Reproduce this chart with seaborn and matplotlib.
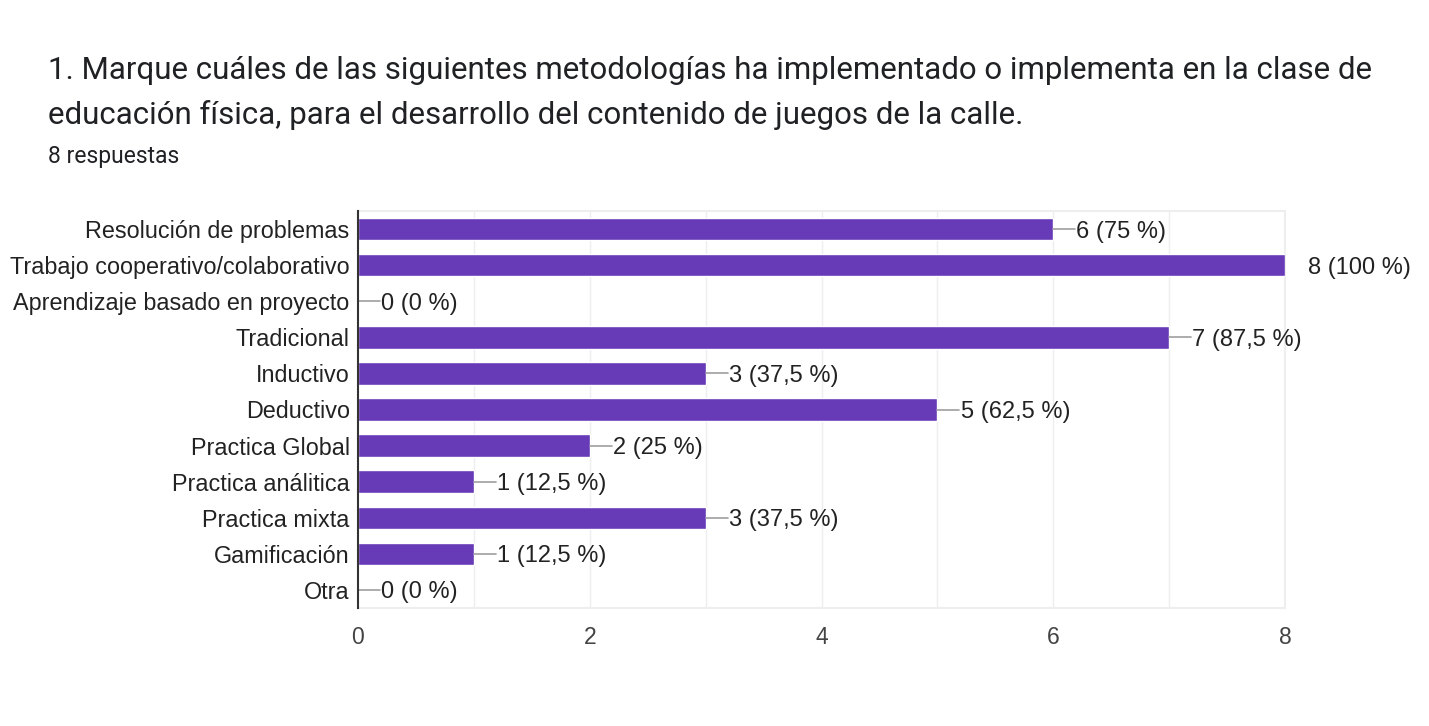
import matplotlib
matplotlib.use('Agg')
import matplotlib.pyplot as plt
import pandas as pd
import seaborn as sns

# Data
categories = ['Resolución de problemas', 'Trabajo cooperativo/colaborativo',
              'Aprendizaje basado en proyecto', 'Tradicional', 'Inductivo',
              'Deductivo', 'Practica Global', 'Practica análitica',
              'Practica mixta', 'Gamificación', 'Otra']
counts = [6, 8, 0, 7, 3, 5, 2, 1, 3, 1, 0]
pct_labels = ['75 %', '100 %', '0 %', '87,5 %', '37,5 %', '62,5 %', '25 %',
              '12,5 %', '37,5 %', '12,5 %', '0 %']
x_ticks = [0, 2, 4, 6, 8]

df = pd.DataFrame({'categoria': categories, 'n': counts})

sns.set_theme(style='white')
plt.rcParams['font.family'] = ['Liberation Sans', 'DejaVu Sans']

fig = plt.figure(figsize=(14.29, 7.26), dpi=100)
ax = fig.add_axes([358 / 1429, 1 - 608 / 726, 927 / 1429, 397 / 726])

sns.barplot(data=df, y='categoria', x='n', color='#673ab7', saturation=1,
            width=0.62, ax=ax, zorder=3)

ax.set_xlim(0, 8)
ax.set_ylim(len(categories) - 0.5, -0.5)

# grid at every unit
for v in range(1, 9):
    ax.axvline(v, color='#eeeeee', lw=1, zorder=1)

# value labels with leader line
off = 22 / 927 * 8
for i, (c, p) in enumerate(zip(counts, pct_labels)):
    if c < 8:
        ax.plot([c, c + off], [i, i], color='#9e9e9e', lw=1.2, zorder=4,
                clip_on=False)
    ax.text(c + off + 0.01, i, f'{c} ({p})', va='center_baseline', ha='left',
            fontsize=17, color='#222222', clip_on=False)

ax.set_xticks(x_ticks)
ax.set_xticklabels([str(t) for t in x_ticks], fontsize=16.5, color='#444444')
ax.tick_params(axis='x', length=0, pad=13)
ax.tick_params(axis='y', length=0, pad=6, labelsize=16.8, labelcolor='#222222')
for lab in ax.get_yticklabels():
    lab.set_verticalalignment('center_baseline')
ax.set_xlabel('')
ax.set_ylabel('')

for side in ['top', 'right', 'bottom']:
    ax.spines[side].set_color('#eeeeee')
    ax.spines[side].set_linewidth(1.5)
ax.spines['left'].set_color('#333333')
ax.spines['left'].set_linewidth(1.5)
ax.spines['left'].set_zorder(5)

title_font = ['Roboto', 'DejaVu Sans']
fig.text(48 / 1429, 1 - 79 / 726,
         '1. Marque cuáles de las siguientes metodologías ha implementado o implementa en la clase de',
         fontsize=22.5, color='#202124', va='baseline', family=title_font)
fig.text(48 / 1429, 1 - 124 / 726,
         'educación física, para el desarrollo del contenido de juegos de la calle.',
         fontsize=22.5, color='#202124', va='baseline', family=title_font)
fig.text(48 / 1429, 1 - 163 / 726, '8 respuestas', fontsize=16.5,
         color='#202124', va='baseline', family=title_font)

fig.savefig('out.png', dpi=100, facecolor='white')
